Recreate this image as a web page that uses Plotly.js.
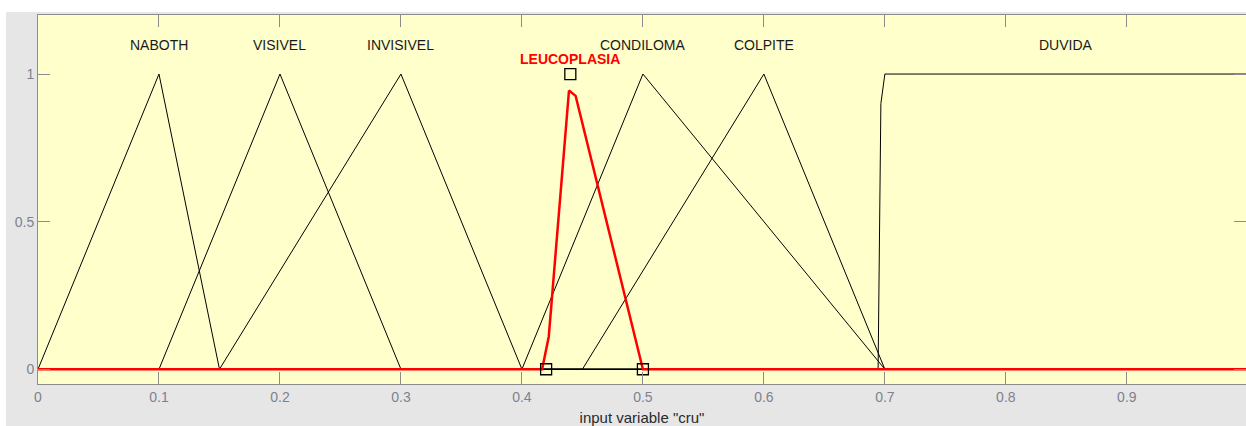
<!DOCTYPE html>
<html>
<head>
<meta charset="utf-8">
<script src="https://cdn.plot.ly/plotly-3.0.1.min.js"></script>
<style>
  html, body { margin: 0; padding: 0; background: #ffffff; width: 1246px; height: 426px; overflow: hidden; }
  #plot { position: absolute; left: 6px; top: 12px; width: 1240px; height: 414px; }
</style>
</head>
<body>
<div id="plot"></div>
<script>
// Membership function vertices (input variable "cru")
const nabothX = [0, 0.1, 0.15, 1];
const nabothY = [0, 1, 0, 0];
const visivelX = [0, 0.1, 0.2, 0.3, 1];
const visivelY = [0, 0, 1, 0, 0];
const invisivelX = [0, 0.15, 0.3, 0.4, 1];
const invisivelY = [0, 0, 1, 0, 0];
const condilomaX = [0, 0.4, 0.5, 0.7, 1];
const condilomaY = [0, 0, 1, 0, 0];
const colpiteX = [0, 0.45, 0.6, 0.7, 1];
const colpiteY = [0, 0, 1, 0, 0];
const duvidaX = [0, 0.6944, 0.6967, 0.7, 1];
const duvidaY = [0, 0, 0.9, 1, 1];
const leucoX = [0, 0.4167, 0.4222, 0.4389, 0.4444, 0.5, 1];
const leucoY = [0, 0, 0.111, 0.944, 0.926, 0, 0];
// selected MF parameter handles
const handleX = [0.42, 0.44, 0.5];
const handleY = [0, 1, 0];

// labels
const labelNames = ["NABOTH", "VISIVEL", "INVISIVEL", "CONDILOMA", "COLPITE", "DUVIDA"];
const labelX = [0.1, 0.2, 0.3, 0.5, 0.6, 0.85];
const selectedName = "LEUCOPLASIA";
const selectedLabelX = 0.44;

const xTicks = [0, 0.1, 0.2, 0.3, 0.4, 0.5, 0.6, 0.7, 0.8, 0.9, 1];
const xTickText = ["0", "0.1", "0.2", "0.3", "0.4", "0.5", "0.6", "0.7", "0.8", "0.9", "1"];
const yTicks = [0, 0.5, 1];
const yTickText = ["0", "0.5", "1"];

const blackLine = {color: "#000000", width: 1};
function mf(x, y) {
  return {x: x, y: y, type: "scatter", mode: "lines", line: blackLine, hoverinfo: "skip", showlegend: false};
}
const traces = [
  mf(nabothX, nabothY),
  mf(visivelX, visivelY),
  mf(invisivelX, invisivelY),
  mf(condilomaX, condilomaY),
  mf(colpiteX, colpiteY),
  mf(duvidaX, duvidaY),
  {x: leucoX, y: leucoY, type: "scatter", mode: "lines", line: {color: "#ff0000", width: 2.5}, showlegend: false, hoverinfo: "skip"},
  {x: handleX, y: handleY, type: "scatter", mode: "markers", marker: {symbol: "square-open", size: 11, color: "#000000", line: {width: 1.3, color: "#000000"}}, showlegend: false, hoverinfo: "skip"}
];

const annotations = labelNames.map((n, i) => ({
  x: labelX[i], y: 1.098, xref: "x", yref: "y", text: n, showarrow: false,
  font: {family: "Liberation Sans, Arial, sans-serif", size: 14, color: "#1a1a1a"},
  xanchor: "center", yanchor: "middle"
}));
annotations.push({
  x: selectedLabelX, y: 1.05, xref: "x", yref: "y", text: "<b>" + selectedName + "</b>", showarrow: false,
  font: {family: "Liberation Sans, Arial, sans-serif", size: 14, color: "#ff0000"},
  xanchor: "center", yanchor: "middle"
});

const axisCommon = {
  showgrid: false, zeroline: false, showline: true, linecolor: "#8c8c8c", linewidth: 1,
  mirror: "ticks", ticks: "inside", ticklen: 12, tickcolor: "#8c8c8c", tickwidth: 1,
  tickfont: {family: "Liberation Sans, Arial, sans-serif", size: 14, color: "#7f8190"},
  fixedrange: true
};

const layout = {
  width: 1240, height: 414,
  margin: {l: 32, r: 0, t: 3, b: 42},
  paper_bgcolor: "#e6e6e6",
  plot_bgcolor: "#ffffcc",
  showlegend: false,
  xaxis: Object.assign({}, axisCommon, {
    range: [0, 0.9985], tickmode: "array", tickvals: xTicks, ticktext: xTickText,
    title: {text: 'input variable "cru"', standoff: 10, font: {family: "Liberation Sans, Arial, sans-serif", size: 15, color: "#2a2a2a"}}
  }),
  yaxis: Object.assign({}, axisCommon, {
    range: [-0.05, 1.2], tickmode: "array", tickvals: yTicks, ticktext: yTickText
  }),
  annotations: annotations
};

Plotly.newPlot("plot", traces, layout, {displayModeBar: false, staticPlot: true});
</script>
</body>
</html>
